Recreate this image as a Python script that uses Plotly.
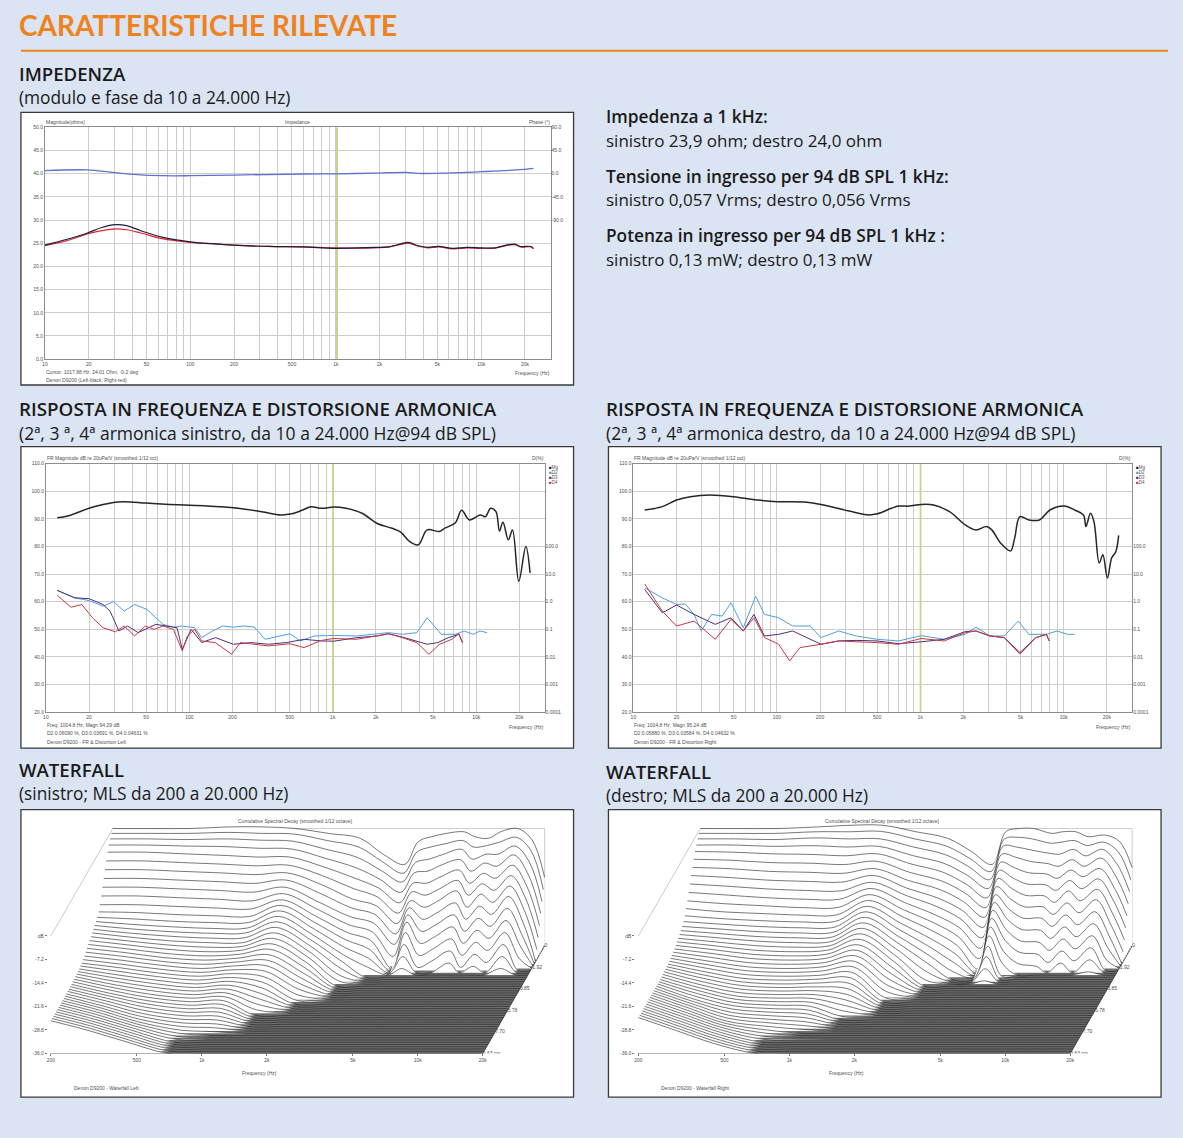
import math
import plotly.graph_objects as go

W, H = 1183, 1138
BG = '#dae4f2'
ORANGE = '#f0821e'
TXT = '#1a1a1a'
FONT = 'Open Sans'
SMALL = dict(family='Liberation Sans, Arial', size=5, color='#505050')

# ---------------- data: impedance ----------------
IMP_FREQ = [10, 14, 19.6, 24.6, 30.7, 36.4, 45.6, 63.8, 100, 157, 196, 344, 603, 1000, 1855,
            2323, 2748, 3162, 3640, 4306, 5094, 6383, 7980, 10000, 12530, 14830, 17060, 18550, 21930, 22850]
IMP_LEFT = [24.6, 25.8, 27.2, 28.4, 29.0, 28.8, 27.7, 26.3, 25.3, 24.8, 24.6, 24.3, 24.2, 23.9, 24.1,
            24.2, 24.8, 25.2, 24.5, 24.1, 24.3, 23.9, 24.1, 24.0, 24.0, 24.6, 24.8, 24.3, 24.3, 23.9]
IMP_RIGHT = [24.5, 25.5, 27.0, 27.7, 28.1, 27.9, 27.2, 26.0, 25.2, 24.8, 24.6, 24.3, 24.2, 24.0, 24.0,
             24.2, 24.7, 25.0, 24.4, 24.0, 24.2, 23.8, 24.0, 23.9, 24.0, 24.5, 24.7, 24.2, 24.2, 23.8]
PHASE_FREQ = [10, 19.6, 29, 43, 63.8, 100, 196, 603, 1000, 1855, 3075, 3640, 5700, 10000, 17540, 22850]
PHASE_DEG = [5.8, 7.4, 2.6, -1.9, -3.9, -3.9, -2.7, -0.6, -0.2, 1.2, 2.6, 0.6, 1.2, 3.9, 7.4, 10.5]
IMP_CURSOR_HZ = 1017.88

# ---------------- data: frequency response + distortion ----------------
FR_CURSOR_HZ = 1004.8
FR_L_FREQ = [12, 14.2, 20, 25, 34, 50, 73, 101, 162, 203, 319, 435, 516, 629, 705, 835, 1017, 1240, 1600, 2060,
             2590, 2980, 3430, 3950, 4550, 5550, 6040, 7160, 7920, 8980, 10640, 11590, 12610, 13740, 14530,
             15380, 16740, 17910, 19820, 22190, 23750]
FR_L_DB = [90.4, 91.0, 93.8, 95.2, 96.2, 95.7, 95.2, 94.9, 94.4, 94.0, 92.6, 91.4, 91.8, 93.4, 94.4, 93.8, 94.3,
           93.8, 92.0, 88.2, 86.6, 85.2, 81.8, 80.6, 86.0, 85.4, 86.6, 88.6, 93.1, 89.6, 91.4, 90.8, 93.8, 92.6,
           85.6, 88.8, 82.4, 86.0, 67.4, 80.0, 70.4]
FR_R_FREQ = [12, 15.9, 20, 25, 34, 50, 73, 101, 162, 203, 319, 435, 502, 629, 705, 835, 1017, 1240, 1600, 2060,
             2445, 2897, 3155, 3633, 4256, 4550, 4957, 5714, 6768, 8018, 10060, 11920, 13740, 14290, 15380,
             16260, 17700, 18750, 20180, 21590, 23100, 24170]
FR_R_DB = [93.2, 94.4, 96.8, 98.0, 98.6, 98.0, 96.8, 96.2, 96.0, 95.2, 92.8, 91.4, 91.8, 93.8, 94.6, 94.6, 95.2,
           95.0, 92.6, 87.8, 86.0, 87.2, 86.0, 81.2, 78.4, 83.0, 90.8, 89.6, 89.6, 93.2, 94.6, 93.2, 91.4, 87.2,
           92.0, 89.0, 74.0, 77.0, 68.6, 75.8, 78.2, 84.0]

# distortion levels read on the dB grid (right axis: 50 dB line = 0.1 %)
D2_L_FREQ = [12, 15.9, 20, 25, 29.7, 35.1, 41.6, 50.7, 65.5, 77.5, 89.3, 109, 122, 145, 171, 203, 241, 284, 337,
             424, 502, 595, 745, 1017, 1470, 2060, 2445, 3060, 3850, 4550, 5714, 7160, 8250, 9530, 10640, 11920]
D2_L = [64.1, 61.4, 60.4, 58.4, 60.0, 56.6, 59.0, 57.2, 51.8, 50.8, 51.2, 50.6, 47.0, 49.4, 51.2, 50.8, 51.2,
        50.8, 46.4, 47.6, 48.4, 45.8, 47.6, 47.8, 47.6, 48.4, 48.8, 48.2, 48.8, 54.2, 48.2, 48.2, 49.4, 48.2,
        49.4, 48.8]
D3_L_FREQ = [12, 15.9, 20, 25, 28, 32.3, 37.2, 44, 52.1, 58.4, 69.2, 82, 89.3, 103, 122, 152, 203, 270, 357,
             475, 630, 835, 1017, 1470, 2060, 2445, 3060, 3850, 4550, 5400, 6390, 7580, 8020]
D3_L = [64.1, 61.4, 61.1, 59.0, 56.6, 49.4, 51.2, 48.8, 50.6, 51.8, 51.2, 50.6, 42.8, 50.0, 45.2, 47.0, 44.6,
        45.2, 44.6, 45.2, 46.4, 45.8, 45.7, 47.0, 47.6, 48.4, 47.2, 45.8, 44.6, 45.2, 47.0, 48.2, 45.2]
D4_L_FREQ = [12, 15, 17.8, 21.1, 25, 30.5, 35.1, 41.6, 49.3, 56.9, 65.5, 77.5, 89.3, 97, 109, 122, 152, 197,
             227, 284, 357, 502, 630, 835, 1017, 1470, 2060, 2445, 3060, 3850, 4688, 5550, 6768, 7580, 8020]
D4_L = [62.3, 58.0, 59.0, 54.2, 50.6, 49.1, 51.2, 47.6, 51.2, 50.0, 51.2, 50.0, 42.2, 47.6, 50.0, 45.8, 45.2,
        41.0, 45.2, 44.6, 44.0, 44.8, 43.4, 46.0, 46.7, 46.4, 47.6, 48.4, 47.0, 45.2, 41.0, 44.6, 46.4, 48.4, 45.2]

D2_R_FREQ = [12, 15.9, 20, 23, 26.5, 29.7, 35.1, 41.6, 47.9, 58.4, 71.2, 82, 103, 129, 171, 203, 270, 357, 502,
             705, 1017, 1470, 2060, 2445, 3060, 3850, 4820, 5714, 7580, 8980, 10640, 11920]
D2_R = [65.0, 61.4, 59.0, 59.2, 55.4, 49.4, 55.4, 54.8, 59.6, 50.6, 62.0, 55.4, 54.2, 51.2, 51.2, 47.0, 49.4,
        47.6, 46.4, 45.8, 47.7, 46.4, 48.2, 50.8, 47.6, 47.6, 53.0, 48.2, 48.2, 49.4, 48.2, 48.2]
D3_R_FREQ = [12, 15.9, 20, 26.5, 37.2, 47.9, 58.4, 69.2, 82, 103, 129, 162, 203, 270, 357, 502, 705, 1017, 1470,
             2060, 2445, 3060, 3850, 4957, 6390, 7580, 7920]
D3_R = [64.4, 56.0, 58.8, 55.4, 51.8, 54.2, 49.4, 55.4, 47.6, 48.2, 49.4, 47.0, 44.6, 45.8, 46.0, 45.8, 44.8,
        45.5, 46.4, 49.2, 49.4, 47.6, 47.0, 41.6, 47.0, 48.2, 45.8]
D4_R_FREQ = [12, 15.9, 20, 26.5, 37.2, 47.9, 58.4, 69.2, 82, 103, 123, 145, 203, 270, 357, 502, 705, 1017, 1470,
             2060, 2445, 3060, 3850, 4957, 6390, 7580, 7920]
D4_R = [66.4, 56.6, 51.2, 53.0, 46.4, 53.6, 49.4, 54.2, 47.0, 44.6, 38.6, 43.4, 44.6, 45.8, 45.5, 45.2, 44.6,
        46.7, 45.8, 48.8, 49.4, 47.6, 47.0, 41.0, 47.0, 48.2, 45.8]

# ---------------- data: waterfall (CSD), 49 slices 0 .. 9.63 ms ----------------
WF_FREQ = [200, 300, 450, 700, 1000, 1400, 2000, 2800, 3600, 4500, 5200, 6000, 7000, 8500, 9500, 11000,
           12500, 15000, 17500, 20000]
WF_TIMES_LABEL = [0, 1.92, 3.85, 5.78, 7.70, 9.63]
WF_TIME_TEXT = ['0', '1.92', '3.85', '5.78', '7.70', '9.63 ms']
WF_TMAX = 9.63
WF_SLICES = 49
WF_FLOOR = -36.0


def pad(vals, level=WF_FLOOR):
    # later slices stay at the last level seen in the plot (the -36 dB floor by default)
    return vals + [level] * (WF_SLICES - len(vals))


WF_LEFT = [
    pad([0, -0.8, -1.8, -3, -4.5, -6.5, -8.5, -10.5, -12.5, -14.5, -16.5, -18, -19, -19.6, -20.1, -20.6, -21,
         -21.5, -22, -22.5, -23, -23.5, -24, -24.4, -24.8, -25, -25.2, -25.3, -25.4, -25.5, -25.6, -25.7, -25.8,
         -25.8, -25.9, -25.9], -26),
    pad([0, -0.8, -1.8, -3, -4.5, -6.5, -8.5, -10.5, -12.5, -14.5, -16.5, -18.2, -19.5, -20.5, -21.2, -21.8,
         -22.3, -22.8, -23.3, -23.8, -24.3, -24.8, -25.3, -25.8, -26.2, -26.6, -27, -27.3, -27.6, -27.9, -28.1,
         -28.3, -28.5, -28.6, -28.7, -28.8, -28.9], -29),
    pad([0, -0.8, -2, -3.3, -5, -7, -9, -11, -13, -15, -17, -18.8, -20.2, -21.2, -22, -22.7, -23.4, -24, -24.6,
         -25.2, -25.8, -26.3, -26.8, -27.3, -27.8, -28.2, -28.6, -29, -29.4, -29.8, -30.2, -30.5, -30.8, -31.1,
         -31.4, -31.7, -32, -32.2, -32.4], -32.5),
    pad([0.5, -0.5, -1.8, -3.5, -5.5, -7.5, -9.5, -11.5, -13.5, -15.5, -17.5, -19.2, -20.6, -21.7, -22.5, -23.3,
         -24, -24.7, -25.4, -26, -26.6, -27.2, -27.8, -28.3, -28.8, -29.3, -29.8, -30.2, -30.6, -31, -31.4, -31.8,
         -32.2, -32.6, -33, -33.4, -33.8, -34.2, -34.6, -35, -35.3, -35.6, -35.8]),
    pad([0.5, -0.8, -2.2, -4, -6, -8, -10, -12, -14, -16, -17.8, -19.4, -20.6, -21.6, -22.4, -23.2, -24, -24.5,
         -25, -25.5, -26, -26.5, -27, -27.5, -28, -28.5, -29, -29.5, -30, -30.5, -31, -31.5, -32, -32.5, -33,
         -33.5, -34, -34.5, -35, -35.5]),
    pad([0, -1, -2.5, -4.2, -6, -7.8, -9.5, -11, -12.5, -13.8, -15, -16, -17, -18, -19, -20, -21, -22, -23, -24,
         -25, -26, -27, -28, -29, -30, -31, -32, -33, -34, -35]),
    pad([-1.5, -3, -5, -7, -9, -11, -13, -15, -17, -18.5, -20, -21.2, -22.4, -23.5, -24.5, -25.5, -26.5, -27.5,
         -28.5, -29.5, -30.5, -31.5, -32.5, -33.5, -34.5, -35.5]),
    pad([-3, -5, -7.5, -10, -12.5, -15, -17.5, -19.5, -21.5, -23.3, -25, -26.6, -28.2, -29.8, -31.2, -32.6, -34,
         -35]),
    pad([-8, -9.5, -11.5, -13.5, -15.5, -17.5, -19.5, -21.5, -23.5, -25.5, -27.5, -29.5, -31.5, -33.5]),
    pad([-11, -13, -15, -17.5, -20, -22.5, -25, -27.5, -30, -33]),
    pad([-4, -6.5, -9, -11.5, -14, -16, -18, -19.5, -21, -22.5, -25, -28, -31, -34]),
    pad([-2.5, -5, -8, -11, -14, -17, -20, -23, -26, -29, -32, -35]),
    pad([-1.5, -4, -6.5, -9, -12, -15, -18, -21, -24, -27, -30, -33]),
    pad([-1, -3, -5, -7.5, -10, -12.5, -15, -18, -21, -24, -27, -30, -33]),
    pad([-2.5, -5, -8, -11, -14, -17, -20, -23, -26, -29, -32, -35]),
    pad([-3, -4.5, -6.5, -8.5, -11, -13.5, -16, -19, -22, -25, -28, -31, -34]),
    pad([-1, -3.5, -6.5, -9.5, -12.5, -15.5, -18.5, -21.5, -24.5, -27.5, -30.5, -33.5]),
    pad([0, -2, -4, -6, -8.5, -11, -13.5, -16, -19, -22, -25, -28, -31, -34]),
    pad([-3.5, -6, -9, -12, -15, -18, -21, -24, -27, -30, -33]),
    pad([-15, -18, -21, -24, -27, -30, -33]),
]
WF_RIGHT = [
    pad([0, -0.8, -1.8, -3, -4.3, -6, -7.8, -9.6, -11.5, -13.4, -15.3, -17, -18.5, -19.6, -20.4, -21, -21.5,
         -22, -22.4, -22.8, -23.2, -23.5, -23.8, -24, -24.2, -24.4, -24.5, -24.6, -24.7, -24.8, -24.9], -25),
    pad([0, -0.8, -1.8, -3, -4.5, -6.3, -8.2, -10.2, -12.2, -14.2, -16.2, -18, -19.4, -20.4, -21.2, -21.9,
         -22.5, -23.1, -23.6, -24.1, -24.6, -25.1, -25.6, -26, -26.4, -26.8, -27.1, -27.4, -27.7, -28, -28.2,
         -28.4, -28.6, -28.8], -29),
    pad([0, -0.8, -2, -3.4, -5, -7, -9, -11, -13, -15, -16.8, -18.5, -20, -21.1, -22, -22.8, -23.5, -24.2, -24.9,
         -25.5, -26.1, -26.7, -27.3, -27.8, -28.3, -28.8, -29.2, -29.6, -30, -30.4, -30.8, -31.1, -31.4, -31.7,
         -32, -32.3, -32.6, -32.8], -33),
    pad([0.5, -0.3, -1.5, -3.2, -5.2, -7.2, -9.3, -11.4, -13.5, -15.5, -17.4, -19, -20.4, -21.5, -22.4, -23.2,
         -24, -24.7, -25.4, -26, -26.6, -27.2, -27.8, -28.3, -28.8, -29.3, -29.8, -30.2, -30.6, -31, -31.4, -31.8,
         -32.2, -32.6, -33, -33.4, -33.8, -34.2, -34.6, -35, -35.3, -35.6, -35.8]),
    pad([1, -0.3, -1.8, -3.6, -5.6, -7.6, -9.6, -11.6, -13.6, -15.5, -17.3, -18.9, -20.2, -21.3, -22.2, -23,
         -23.7, -24.3, -24.9, -25.5, -26.1, -26.7, -27.3, -27.9, -28.5, -29, -29.5, -30, -30.5, -31, -31.5, -32,
         -32.5, -33, -33.5, -34, -34.5, -35, -35.5]),
    pad([1, -0.2, -1.8, -3.4, -5, -6.6, -8.2, -9.6, -11, -12.2, -13.4, -14.5, -15.6, -16.6, -17.6, -18.6, -19.6,
         -20.6, -21.6, -22.6, -23.6, -24.6, -25.6, -26.6, -27.6, -28.6, -29.6, -30.6, -31.6, -32.6, -33.6,
         -34.6, -35.6]),
    pad([-1, -2.5, -4.3, -6.2, -8.1, -10, -11.8, -13.5, -15, -16.5, -18, -19.4, -20.8, -22.1, -23.4, -24.6,
         -25.8, -27, -28.2, -29.4, -30.6, -31.8, -33, -34.2, -35.4]),
    pad([-3, -4.7, -6.6, -8.6, -10.6, -12.6, -14.6, -16.6, -18.5, -20.4, -22.2, -24, -25.8, -27.6, -29.4, -31.2,
         -33, -34.8]),
    pad([-7, -8.5, -10.3, -12.3, -14.3, -16.3, -18.3, -20.3, -22.3, -24.3, -26.3, -28.3, -30.3, -32.3, -34.3]),
    pad([-11, -12.5, -14.3, -16.3, -18.5, -20.8, -23.1, -25.5, -28, -30.5, -33, -35.5]),
    pad([-1, -2.5, -4, -5.8, -7.6, -9.4, -11.2, -13, -14.8, -16.5, -18.2, -20, -22, -24, -26.5, -29, -32, -35]),
    pad([0, -2, -4.3, -6.7, -9.2, -11.7, -14.2, -16.7, -19.2, -21.7, -24.2, -26.7, -29.5, -32.5, -35.5]),
    pad([0, -2.5, -5.2, -8, -10.8, -13.6, -16.4, -19.2, -22, -24.8, -27.6, -30.4, -33.2]),
    pad([-1.5, -3.8, -6.2, -8.7, -11.2, -13.8, -16.5, -19.2, -22, -25, -28, -31, -34]),
    pad([-1, -3.5, -6.5, -9.5, -12.5, -15.5, -18.5, -21.5, -24.5, -27.5, -30.5, -33.5]),
    pad([-1, -3, -5, -7.5, -10, -12.5, -15, -18, -21, -24, -27, -30, -33]),
    pad([-2.5, -4.5, -7, -9.5, -12, -15, -18, -21, -24, -27, -30, -33]),
    pad([-2, -3.5, -5, -7, -9.5, -12, -14.5, -17, -20, -23, -26, -29, -32, -35]),
    pad([-4, -6.5, -9.5, -12.5, -15.5, -18.5, -21.5, -24.5, -27.5, -30.5, -33.5]),
    pad([-12, -15, -18, -21, -24, -27, -30, -33]),
]

# ---------------- helpers ----------------
def X(px):
    return px / W


def Y(py):
    return 1 - py / H


annotations = []
shapes = []


def note(x, y, text, size=16, color=TXT, xanchor='left', family=FONT, weight=None):
    f = dict(family=family, size=size, color=color)
    if weight:
        f['weight'] = weight
    annotations.append(dict(x=X(x), y=Y(y), xref='paper', yref='paper', text=text, showarrow=False,
                            xanchor=xanchor, yanchor='middle', font=f, borderpad=0))


def small(x, y, text, xanchor='left', size=5, color='#505050'):
    note(x, y, text, size=size, color=color, xanchor=xanchor, family='Liberation Sans, Arial')


GRID_HZ = [m * 10 ** e for e in range(1, 5) for m in range(1, 10) if m * 10 ** e <= 30000]
LBL = {10: '10', 20: '20', 50: '50', 100: '100', 200: '200', 500: '500', 1000: '1k', 2000: '2k',
       5000: '5k', 10000: '10k', 20000: '20k'}


def log_xaxis(px0, px1, anchor):
    return dict(domain=[X(px0), X(px1)], anchor=anchor, type='log', range=[1, math.log10(30000)],
                tickvals=GRID_HZ, ticktext=[LBL.get(v, '') for v in GRID_HZ], showgrid=True,
                gridcolor='#cdcdcd', gridwidth=0.6, showline=True, mirror=True, linecolor='#8c8c8c',
                linewidth=0.8, ticks='', tickfont=SMALL, zeroline=False, fixedrange=True)


def lin_yaxis(py0, py1, anchor, rng, dtick):
    return dict(domain=[Y(py1), Y(py0)], anchor=anchor, range=rng, dtick=dtick, tickformat='.1f',
                showgrid=True, gridcolor='#cdcdcd', gridwidth=0.6, showline=True, mirror=True,
                linecolor='#8c8c8c', linewidth=0.8, ticks='', tickfont=SMALL, zeroline=False, fixedrange=True)


def sec_yaxis(over, anchor, rng, vals, texts):
    return dict(overlaying=over, anchor=anchor, side='right', range=rng, tickvals=vals, ticktext=texts,
                showgrid=False, showline=False, ticks='', tickfont=SMALL, zeroline=False, fixedrange=True)


fig = go.Figure()

# ---------------- page frame ----------------
for (x0, y0, x1, y1) in [(18, 110, 572, 384), (18, 446, 572, 749), (607, 446, 1161, 749),
                         (18, 811, 572, 1100), (607, 811, 1161, 1100)]:
    shapes.append(dict(type='rect', xref='paper', yref='paper', x0=X(x0), x1=X(x1), y0=Y(y1), y1=Y(y0),
                       fillcolor='white', line=dict(color='#3a3a3a', width=1.3), layer='below'))
shapes.append(dict(type='line', xref='paper', yref='paper', x0=X(18), x1=X(1168), y0=Y(48), y1=Y(48),
                   line=dict(color=ORANGE, width=2)))

note(15, 22, '<b>CARATTERISTICHE RILEVATE</b>', size=28, color=ORANGE, family='Lato')
TX = 15
RX = 604


def head(x, y, text, size):
    note(x, y, text, size=size, weight=600)


def body(x, y, text, size):
    note(x, y, text, size=size)


head(TX, 71, 'IMPEDENZA', 18.6)
body(TX, 95, '(modulo e fase da 10 a 24.000 Hz)', 17.3)
head(RX, 114, 'Impedenza a 1 kHz:', 17.3)
body(RX, 138, 'sinistro 23,9 ohm; destro 24,0 ohm', 17)
head(RX, 174, 'Tensione in ingresso per 94 dB SPL 1 kHz:', 17.3)
body(RX, 198, 'sinistro 0,057 Vrms; destro 0,056 Vrms', 17)
head(RX, 234, 'Potenza in ingresso per 94 dB SPL 1 kHz :', 17.3)
body(RX, 258, 'sinistro 0,13 mW; destro 0,13 mW', 17)
for xo, side in [(TX, 'sinistro'), (RX, 'destro')]:
    head(xo, 408, 'RISPOSTA IN FREQUENZA E DISTORSIONE ARMONICA', 18.8)
    body(xo, 432, '(2ª, 3 ª, 4ª armonica %s, da 10 a 24.000 Hz@94 dB SPL)' % side, 17.5)
head(TX, 771, 'WATERFALL', 18.6)
body(TX, 795, '(sinistro; MLS da 200 a 20.000 Hz)', 17.3)
head(RX, 773, 'WATERFALL', 18.6)
body(RX, 797, '(destro; MLS da 200 a 20.000 Hz)', 17.3)

# ---------------- impedance chart ----------------
fig.add_trace(go.Scatter(x=[IMP_CURSOR_HZ, IMP_CURSOR_HZ], y=[0, 50], xaxis='x', yaxis='y', mode='lines',
                         line=dict(color='#c9d58c', width=2.2), hoverinfo='skip'))
fig.add_trace(go.Scatter(x=PHASE_FREQ, y=PHASE_DEG, xaxis='x', yaxis='y2', mode='lines', line_shape='spline',
                         line=dict(color='#5f72cf', width=1.3)))
fig.add_trace(go.Scatter(x=IMP_FREQ, y=IMP_RIGHT, xaxis='x', yaxis='y', mode='lines', line_shape='spline',
                         line=dict(color='#e8262e', width=1.2)))
fig.add_trace(go.Scatter(x=IMP_FREQ, y=IMP_LEFT, xaxis='x', yaxis='y', mode='lines', line_shape='spline',
                         line=dict(color='#1e1e3c', width=1.2)))
small(42, 120, 'Magnitude(ohms)')
small(295, 120, 'Impedance', xanchor='center')
small(549, 120, 'Phase (°)', xanchor='right')
small(42, 371, 'Cursor: 1017.88 Hz, 24.01 Ohm, -0.2 deg')
small(42, 379, 'Denon D9200 (Left-black, Right-red)')
small(549, 372, 'Frequency (Hz)', xanchor='right')

# ---------------- FR + distortion charts ----------------
FR_SETS = [
    ('x3', 'y3', 'y4', 43, 543, FR_L_FREQ, FR_L_DB,
     [(D2_L_FREQ, D2_L), (D3_L_FREQ, D3_L), (D4_L_FREQ, D4_L)],
     ['Freq: 1004.8 Hz, Magn 94.29 dB', 'D2:0.06090 %, D3:0.03691 %, D4:0.04631 %',
      'Denon D9200 - FR & Distortion Left']),
    ('x5', 'y5', 'y6', 632, 1132, FR_R_FREQ, FR_R_DB,
     [(D2_R_FREQ, D2_R), (D3_R_FREQ, D3_R), (D4_R_FREQ, D4_R)],
     ['Freq: 1004.8 Hz, Magn 95.24 dB', 'D2:0.05880 %, D3:0.03584 %, D4:0.04632 %',
      'Denon D9200 - FR & Distortion Right']),
]
D_COLORS = ['#4f9ee0', '#4e2f78', '#c53a45']
LEG = [('Mg', '#222222'), ('D2', '#4f9ee0'), ('D3', '#4e2f78'), ('D4', '#c53a45')]
for xa, ya, yb, l, r, ff, fd, dists, foot in FR_SETS:
    fig.add_trace(go.Scatter(x=[FR_CURSOR_HZ, FR_CURSOR_HZ], y=[20, 110], xaxis=xa, yaxis=ya, mode='lines',
                             line=dict(color='#c9d58c', width=1.8), hoverinfo='skip'))
    for (dfq, dv), c in zip(dists, D_COLORS):
        fig.add_trace(go.Scatter(x=dfq, y=dv, xaxis=xa, yaxis=yb, mode='lines',
                                 line=dict(color=c, width=1.0)))
    fig.add_trace(go.Scatter(x=ff, y=fd, xaxis=xa, yaxis=ya, mode='lines', line_shape='spline',
                             line=dict(color='#262626', width=1.5)))
    small(l, 457, 'FR Magnitude dB re 20uPa/V (smoothed 1/12 oct)')
    small(r, 457, 'D(%)', xanchor='right')
    for i, (name, col) in enumerate(LEG):
        note(r + 3, 467 + i * 5, '<span style="color:%s">■</span>%s' % (col, name), size=4.5,
             color='#505050', family='Liberation Sans, Arial')
    for i, t in enumerate(foot):
        small(l, 726 + i * 8 + (1 if i == 2 else 0), t)
    small(r, 728, 'Frequency (Hz)', xanchor='right')

# ---------------- waterfalls ----------------
PX_DEC = 216.5
PX_DB = 3.28
DX = 62 / PX_DEC
DY = 108 / PX_DB
XL = math.log10(200) - 3 / PX_DEC
XR = math.log10(200) + 512 / PX_DEC
WF_TICKS = [200, 500, 1000, 2000, 5000, 10000, 20000]
WF_TICKTEXT = ['200', '500', '1k', '2k', '5k', '10k', '20k']


def proj(f, lev, d):
    return math.log10(f) + DX * d, lev + DY * d


WF_SETS = [('x7', 'y7', 0, WF_LEFT, 'Denon D9200 - Waterfall Left'),
           ('x8', 'y8', 589, WF_RIGHT, 'Denon D9200 - Waterfall Right')]
for xa, ya, off, grid, label in WF_SETS:
    fmin, fmax = WF_FREQ[0], WF_FREQ[-1]
    pts = [proj(fmin, 0, 0), proj(fmin, 0, 1), proj(fmax, 0, 1), proj(fmax, WF_FLOOR, 1)]
    fig.add_trace(go.Scatter(x=[p[0] for p in pts], y=[p[1] for p in pts], xaxis=xa, yaxis=ya, mode='lines',
                             line=dict(color='#b5b5b5', width=0.7), hoverinfo='skip'))
    pts = [proj(fmin, WF_FLOOR, 0), proj(fmax, WF_FLOOR, 0), proj(fmax, WF_FLOOR, 1), proj(fmin, WF_FLOOR, 1),
           proj(fmin, WF_FLOOR, 0)]
    fig.add_trace(go.Scatter(x=[p[0] for p in pts], y=[p[1] for p in pts], xaxis=xa, yaxis=ya, mode='lines',
                             fill='toself', fillcolor='#6e6e6e', line=dict(color='#3a3a3a', width=0.8),
                             hoverinfo='skip'))
    for k in range(WF_SLICES):
        d = 1 - k / (WF_SLICES - 1)
        lv = [col[k] for col in grid]
        xs = [proj(f, v, d)[0] for f, v in zip(WF_FREQ, lv)]
        ys = [proj(f, v, d)[1] for f, v in zip(WF_FREQ, lv)]
        fl = WF_FLOOR + DY * d
        fig.add_trace(go.Scatter(x=xs + [xs[-1], xs[0], xs[0]], y=ys + [fl, fl, ys[0]], xaxis=xa, yaxis=ya,
                                 mode='lines', fill='toself', fillcolor='white', line=dict(width=0),
                                 hoverinfo='skip'))
        fig.add_trace(go.Scatter(x=xs, y=ys, xaxis=xa, yaxis=ya, mode='lines', line_shape='spline',
                                 line=dict(color='#1c1c1c', width=0.6), hoverinfo='skip'))
    tl = [proj(fmax, WF_FLOOR, 1 - t / WF_TMAX) for t in WF_TIMES_LABEL]
    fig.add_trace(go.Scatter(x=[p[0] for p in tl], y=[p[1] for p in tl], xaxis=xa, yaxis=ya, mode='text',
                             text=WF_TIME_TEXT, textposition='middle right',
                             textfont=dict(family='Liberation Sans, Arial', size=5, color='#505050'),
                             hoverinfo='skip'))
    small(293 + off, 822, 'Cumulative Spectral Decay (smoothed 1/12 octave)', xanchor='center')
    small(257 + off, 1076, 'Frequency (Hz)', xanchor='center')
    small(70 + off, 1091, label)

WF_X = dict(range=[XL, XR], tickvals=[math.log10(v) for v in WF_TICKS], ticktext=WF_TICKTEXT, showgrid=False,
            zeroline=False, showline=False, ticks='outside', ticklen=2, tickcolor='#777', tickfont=SMALL,
            fixedrange=True)
WF_Y = dict(range=[WF_FLOOR, WF_FLOOR + 236 / PX_DB], tickvals=[-36, -28.8, -21.6, -14.4, -7.2, 0],
            ticktext=['-36.0', '-28.8', '-21.6', '-14.4', '-7.2', 'dB'], showgrid=False, zeroline=False,
            showline=False, ticks='outside', ticklen=2, tickcolor='#777', tickfont=SMALL, fixedrange=True)

fig.update_layout(
    width=W, height=H, margin=dict(l=0, r=0, t=0, b=0), paper_bgcolor=BG, plot_bgcolor='white',
    showlegend=False, annotations=annotations, shapes=shapes,
    xaxis=log_xaxis(42, 549, 'y'),
    yaxis=lin_yaxis(125, 358, 'x', [0, 50], 5),
    yaxis2=sec_yaxis('y', 'x', [-360, 90], [-90, -45, 0, 45, 90], ['-90.0', '-45.0', '0.0', '45.0', '90.0']),
    xaxis3=log_xaxis(43, 543, 'y3'),
    yaxis3=lin_yaxis(463, 713, 'x3', [20, 110], 10),
    yaxis4=sec_yaxis('y3', 'x3', [20, 110], [20, 30, 40, 50, 60, 70, 80],
                     ['0.0001', '0.001', '0.01', '0.1', '1.0', '10.0', '100.0']),
    xaxis5=log_xaxis(632, 1132, 'y5'),
    yaxis5=lin_yaxis(463, 713, 'x5', [20, 110], 10),
    yaxis6=sec_yaxis('y5', 'x5', [20, 110], [20, 30, 40, 50, 60, 70, 80],
                     ['0.0001', '0.001', '0.01', '0.1', '1.0', '10.0', '100.0']),
    xaxis7=dict(domain=[X(45), X(560)], anchor='y7', **WF_X),
    yaxis7=dict(domain=[Y(1056), Y(820)], anchor='x7', **WF_Y),
    xaxis8=dict(domain=[X(634), X(1149)], anchor='y8', **WF_X),
    yaxis8=dict(domain=[Y(1056), Y(820)], anchor='x8', **WF_Y),
)

fig.write_html("out.html", config={'displayModeBar': False},
               post_script="document.body.style.margin='0';document.body.style.overflow='hidden';")
